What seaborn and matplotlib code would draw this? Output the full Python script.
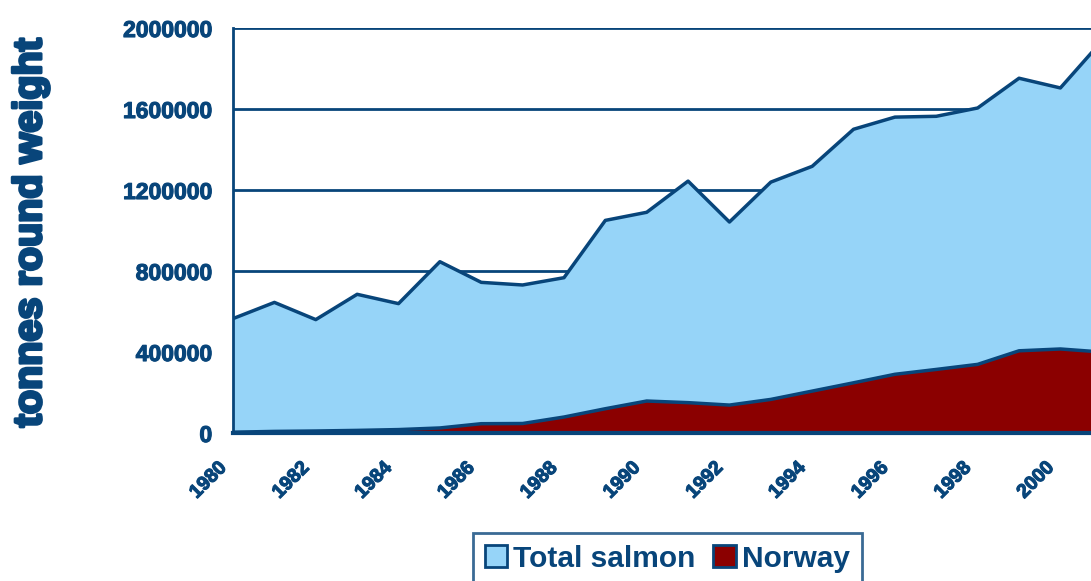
import numpy as np
import pandas as pd
import matplotlib
matplotlib.use("Agg")
import matplotlib.pyplot as plt
import matplotlib.transforms as mtransforms
import matplotlib.patheffects as pe
import seaborn as sns
from matplotlib.patches import Patch

# data (tonnes round weight)
years = list(range(1980, 2002))
total_salmon = [565000, 645000, 560000, 685000, 639000, 846000, 744000, 731000,
                767000, 1050000, 1090000, 1244000, 1042000, 1239000, 1317000,
                1500000, 1560000, 1564000, 1605000, 1752000, 1704000, 1935000]
norway = [4000, 8000, 10000, 13000, 17000, 25000, 46000, 47000, 79000, 120000,
          158000, 150000, 138000, 166000, 207000, 248000, 290000, 314000,
          339000, 406000, 415000, 400000]
y_ticks = [0, 400000, 800000, 1200000, 1600000, 2000000]
x_ticks = list(range(1980, 2001, 2))

df = pd.DataFrame({"year": years, "Total salmon": total_salmon, "Norway": norway})

navy = "#08457A"
light_blue = "#96D4F8"
dark_red = "#8B0000"

sns.set_style("white")
plt.rcParams["font.family"] = ["Liberation Sans", "DejaVu Sans"]

fig = plt.figure(figsize=(10.91, 5.81), dpi=100)
ax = fig.add_axes([0.2136, 0.2547, 0.7864, 0.6971])

# horizontal grid behind the areas
for yv in y_ticks[1:]:
    ax.axhline(yv, color=navy, lw=2, zorder=0)

ax.fill_between(df["year"], df["Total salmon"], color=light_blue, zorder=1, lw=0)
ax.fill_between(df["year"], df["Norway"], color=dark_red, zorder=2, lw=0)
sns.lineplot(data=df, x="year", y="Total salmon", color=navy, lw=2.5, ax=ax, zorder=3)
sns.lineplot(data=df, x="year", y="Norway", color=navy, lw=2.5, ax=ax, zorder=3)

ax.set_xlim(1980, 2000.74)
ax.set_ylim(0, 2000000)
ax.set_xticks(x_ticks)
ax.set_xticks(years[:21], minor=True)
ax.set_yticks(y_ticks)
ax.set_yticklabels([str(v) for v in y_ticks])
ax.set_xticklabels([str(v) for v in x_ticks], rotation=45, ha="right",
                   va="top", rotation_mode="anchor")
ax.tick_params(axis="both", which="both", direction="out", length=7, width=2,
               color=navy, labelcolor=navy)
ax.tick_params(axis="y", labelsize=16.5, pad=8)
ax.tick_params(axis="x", which="major", labelsize=14, pad=12)

# bolder look for the tick labels
thick = [pe.withStroke(linewidth=0.8, foreground=navy)]
shift = mtransforms.ScaledTranslation(-15 / 100, 0, fig.dpi_scale_trans)
for lab in ax.get_xticklabels():
    lab.set_fontweight("bold")
    lab.set_path_effects(thick)
    lab.set_transform(lab.get_transform() + shift)
for lab in ax.get_yticklabels():
    lab.set_fontweight("bold")
    lab.set_path_effects(thick)

for side in ["top", "right"]:
    ax.spines[side].set_visible(False)
ax.spines["left"].set_color(navy)
ax.spines["left"].set_linewidth(2)
ax.spines["bottom"].set_color(navy)
ax.spines["bottom"].set_linewidth(3)
ax.spines["left"].set_zorder(4)
ax.spines["bottom"].set_zorder(4)

ax.set_xlabel("")
ax.set_ylabel("")
fig.text(0.0275, 0.600, "tonnes round weight", rotation=90, ha="center",
         va="center", color=navy, fontsize=28.5, fontweight="bold",
         path_effects=[pe.withStroke(linewidth=2.2, foreground=navy)])

handles = [Patch(facecolor=light_blue, edgecolor=navy, lw=2, label="Total salmon"),
           Patch(facecolor=dark_red, edgecolor=navy, lw=2, label="Norway")]
leg = fig.legend(handles=handles, loc="upper center", bbox_to_anchor=(0.6115, 0.083),
                 ncol=2, frameon=True, fancybox=False, fontsize=21.5,
                 handlelength=0.75, handleheight=0.75, handletextpad=0.2,
                 columnspacing=0.6, borderpad=0.4, borderaxespad=0)
leg.get_frame().set_edgecolor(navy)
leg.get_frame().set_linewidth(2)
for t in leg.get_texts():
    t.set_color(navy)
    t.set_fontweight("bold")

fig.savefig("out.png", dpi=100)
